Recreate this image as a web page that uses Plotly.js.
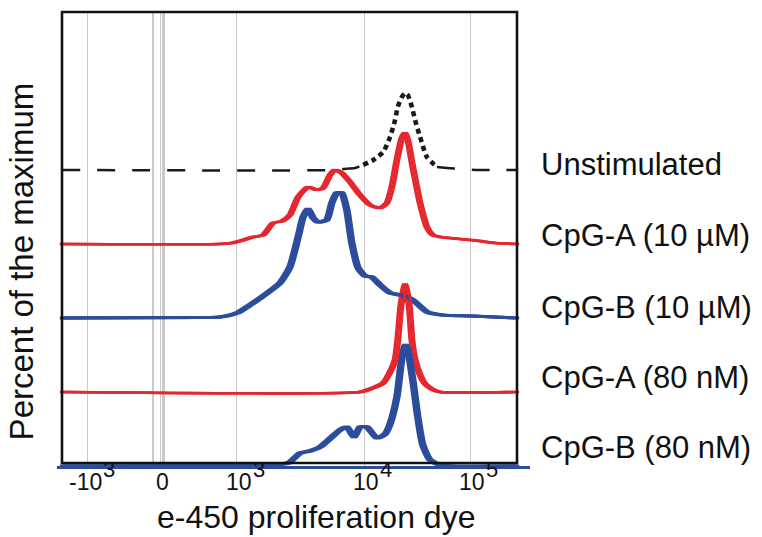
<!DOCTYPE html>
<html>
<head>
<meta charset="utf-8">
<script src="https://cdn.plot.ly/plotly-3.0.1.min.js"></script>
<style>html,body{margin:0;padding:0;background:#fff;}#chart{width:762px;height:537px;}</style>
</head>
<body>
<div id="chart"></div>
<script>
// x values: display channel of the e-450 dye axis (box spans 0..1000)
// y values: percent of the maximum (each histogram relative to its own baseline)
const seriesNames = ['Unstimulated', 'CpG-A (10 µM)', 'CpG-B (10 µM)', 'CpG-A (80 nM)', 'CpG-B (80 nM)'];
const seriesOffsets = [240, 180, 120, 60, 0];

const unstimX = [0, 600, 618, 644, 662, 684, 706, 721, 732, 738, 747, 754, 760, 769, 776, 787, 802, 824, 846, 875, 908, 1000];
const unstimY = [0, 0, 0.8, 1.6, 4.1, 8.1, 14.6, 26.8, 40.5, 51.1, 59.2, 62.4, 60.8, 51.1, 40.5, 26.8, 10.5, 2.4, 1.6, 0.8, 0, 0];

const cpgA10X = [0, 347, 374, 391, 420, 442, 464, 484, 501, 519, 541, 560, 574, 589, 600, 615, 633, 655, 677, 699, 714, 725, 736, 747, 754, 760, 771, 787, 802, 815, 831, 901, 952, 1000];
const cpgA10Y = [0, 0, 0.8, 2.4, 5.7, 7.3, 17.0, 18.6, 23.5, 38.1, 46.2, 43.8, 45.4, 55.9, 60.0, 57.6, 50.3, 39.7, 31.6, 29.2, 33.2, 46.2, 68.1, 85.9, 90.0, 84.3, 62.4, 33.2, 13.8, 7.3, 5.7, 3.2, 0.8, 0];

const cpgB10X = [0, 303, 347, 385, 413, 451, 479, 501, 519, 530, 541, 552, 563, 582, 593, 604, 615, 626, 637, 651, 666, 681, 699, 721, 743, 771, 802, 835, 901, 1000];
const cpgB10Y = [0, 0.4, 0.8, 4.1, 10.5, 20.3, 28.4, 41.4, 65.7, 81.9, 88.4, 81.1, 77.8, 79.5, 93.2, 101.4, 101.4, 87.6, 60.8, 40.5, 34.1, 33.2, 26.8, 20.3, 18.6, 14.6, 4.9, 2.4, 1.6, 0];

const cpgA80X = [0, 655, 677, 706, 721, 732, 738, 745, 754, 763, 769, 776, 787, 798, 813, 831, 1000];
const cpgA80Y = [0, 0, 2.4, 7.3, 16.2, 25.9, 42.2, 70.4, 87.6, 70.4, 42.2, 25.9, 13.8, 6.5, 2.4, 0, 0];

const cpgB80X = [0, 391, 497, 523, 545, 567, 593, 611, 626, 642, 655, 670, 692, 710, 721, 736, 747, 754, 760, 771, 782, 793, 809, 831, 853, 1000];
const cpgB80Y = [0, 0.8, 2.4, 10.5, 12.2, 15.4, 23.5, 29.2, 31.6, 23.5, 31.6, 31.6, 22.7, 25.9, 34.1, 55.9, 87.6, 98.1, 94.1, 69.7, 39.7, 17.0, 4.9, 0.8, 0, 0];

// axis: grid line positions and the labelled decades
const gridVals = [56, 200, 216, 220, 224, 384, 664, 897];
const tickVals = [56, 220, 384, 664, 897];
const tickBase = ['-10', '0', '10', '10', '10'];
const tickExp = ['3', '', '3', '4', '5'];

const RED = '#e6262d', BLUE = '#2c4c9c', BLACK = '#1a1a1a';
const FONT = 'Liberation Sans, Arial, Helvetica, sans-serif';

const plotW = 473;
const xRange = [-10.99, 1028.6];
const yRange = [0, 368.9];
const chPerPx = (xRange[1] - xRange[0]) / plotW;
const d = 2.2 * chPerPx;

const traces = [];
// Unstimulated: dashed baseline, dotted peak
const sets = [[0, 5, '18px,17px', 2.5], [4, 18, '5px,4px', 4.6], [17, unstimX.length, '18px,17px', 2.5]];
sets.forEach(([a, b, dash, w]) => {
  traces.push({
    x: unstimX.slice(a, b), y: unstimY.slice(a, b).map(v => v + seriesOffsets[0]),
    mode: 'lines', line: {color: BLACK, width: w, dash: dash, shape: 'spline', smoothing: 0.6},
    hoverinfo: 'skip', showlegend: false, name: seriesNames[0]
  });
});

const colored = [
  [cpgA10X, cpgA10Y, RED, 1, 2.5],
  [cpgB10X, cpgB10Y, BLUE, 2, 3.1],
  [cpgA80X, cpgA80Y, RED, 3, 2.6],
  [cpgB80X, cpgB80Y, BLUE, 4, 3.1]
];
colored.forEach(([xs, ys, col, i, w]) => {
  ['x2', 'x', 'x3'].forEach(ax => {
    traces.push({
      x: xs, y: ys.map(v => v + seriesOffsets[i]), xaxis: ax, yaxis: 'y',
      mode: 'lines', line: {color: col, width: w, shape: 'spline', smoothing: 0.6},
      hoverinfo: 'skip', showlegend: false, name: seriesNames[i]
    });
  });
});

const labelY = [0.6637, 0.5066, 0.3484, 0.1945, 0.0407];
const annotations = seriesNames.map((n, i) => ({
  text: n, xref: 'paper', yref: 'paper', x: 1.019, y: labelY[i],
  xanchor: 'left', yanchor: 'middle', showarrow: false,
  font: {family: FONT, size: 31, color: '#111'}
}));
// decade tick labels: base and (full-size) raised exponent
tickVals.forEach((v, i) => {
  if (tickExp[i] === '') {
    annotations.push({text: tickBase[i], xref: 'x', yref: 'paper', x: v, y: -0.0341,
      xanchor: 'center', yanchor: 'middle', showarrow: false, borderpad: 0,
      font: {family: FONT, size: 23, color: '#111'}});
  } else {
    annotations.push({text: tickBase[i], xref: 'x', yref: 'paper', x: v, xshift: 16, y: -0.0341,
      xanchor: 'right', yanchor: 'middle', showarrow: false, borderpad: 0,
      font: {family: FONT, size: 23, color: '#111'}});
    annotations.push({text: tickExp[i], xref: 'x', yref: 'paper', x: v, xshift: 15, y: -0.0066,
      xanchor: 'left', yanchor: 'middle', showarrow: false, borderpad: 0,
      font: {family: FONT, size: 22, color: '#111'}});
  }
});
annotations.push({
  text: 'e-450 proliferation dye', xref: 'paper', yref: 'paper', x: 0.5486, y: -0.1121,
  xanchor: 'center', yanchor: 'middle', showarrow: false,
  font: {family: FONT, size: 32, color: '#111'}
});
annotations.push({
  text: 'Percent of the maximum', xref: 'paper', yref: 'paper', x: -0.0742, y: 0.4495,
  xanchor: 'center', yanchor: 'middle', showarrow: false, textangle: -90,
  font: {family: FONT, size: 33, color: '#111'}
});

const layout = {
  width: 762, height: 537,
  margin: {l: 57, r: 232, t: 11, b: 71, pad: 0},
  paper_bgcolor: '#fff', plot_bgcolor: '#fff',
  showlegend: false,
  xaxis: {
    range: xRange, tickmode: 'array', tickvals: gridVals, showticklabels: false,
    showgrid: true, gridcolor: '#c9c9c9', gridwidth: 1.2, zeroline: false,
    showline: true, linecolor: BLUE, linewidth: 3, ticks: '',
    fixedrange: true
  },
  xaxis2: {overlaying: 'x', anchor: 'y', range: [xRange[0] + d, xRange[1] + d], visible: false, fixedrange: true},
  xaxis3: {overlaying: 'x', anchor: 'y', range: [xRange[0] - d, xRange[1] - d], visible: false, fixedrange: true},
  yaxis: {range: yRange, showgrid: false, zeroline: false, showticklabels: false, showline: false, ticks: '', fixedrange: true},
  shapes: [{
    type: 'rect', xref: 'paper', yref: 'paper', x0: 0.01057, x1: 0.97252, y0: 0.00659, y1: 0.99780,
    line: {color: '#111', width: 2.6}, fillcolor: 'rgba(0,0,0,0)', layer: 'above'
  }],
  annotations: annotations
};

Plotly.newPlot('chart', traces, layout, {staticPlot: true, displayModeBar: false});
</script>
</body>
</html>
